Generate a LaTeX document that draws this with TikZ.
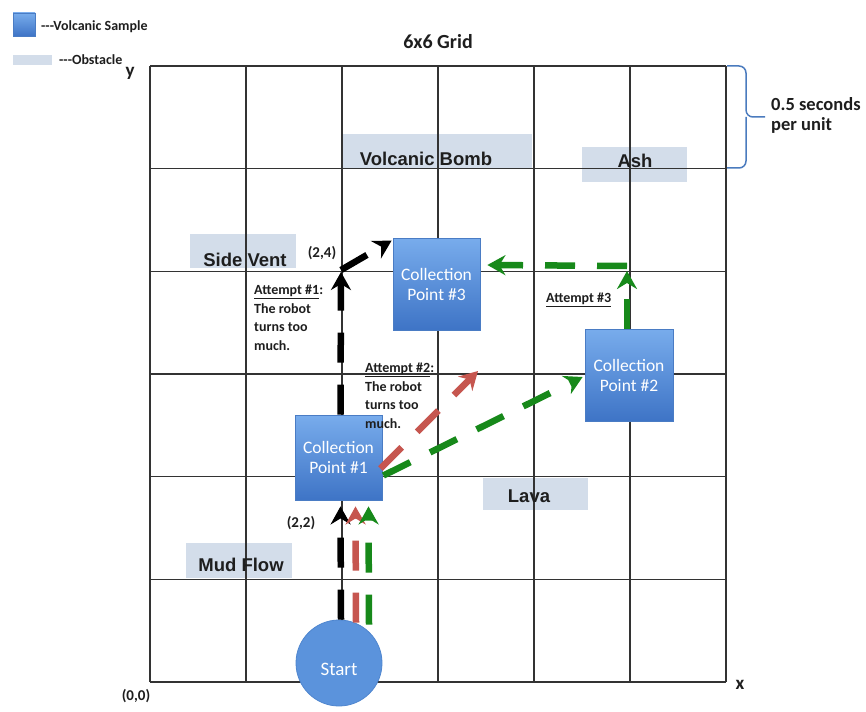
\documentclass[tikz,border=0pt]{standalone}
\usepackage{fontspec}
\setmainfont{Carlito}
\newfontfamily\arialf{Liberation Sans}
\usetikzlibrary{arrows.meta,calc}
\definecolor{obst}{HTML}{D3DDEA}
\definecolor{cptop}{HTML}{78ACEC}
\definecolor{cpbot}{HTML}{3E74C6}
\definecolor{cpedge}{HTML}{4A7CC4}
\definecolor{startc}{HTML}{5B93DC}
\definecolor{startedge}{HTML}{4F86CF}
\definecolor{redar}{HTML}{C6564F}
\definecolor{grnar}{HTML}{17891A}
\definecolor{bracec}{HTML}{4B7BBE}
\definecolor{gridc}{HTML}{333333}
\definecolor{txt}{HTML}{1E1E1E}
\tikzset{
  gridln/.style={draw=gridc, line width=1.5pt},
  obstbox/.style 2 args={rectangle, fill=obst, draw=none, inner sep=0, minimum width=#1, minimum height=#2},
  obstlbl/.style={font=\arialf\bfseries\fontsize{18.5}{22}\selectfont, text=txt, inner sep=0, anchor=base},
  cpbox/.style={rectangle, top color=cptop, bottom color=cpbot, draw=cpedge, line width=0.8pt,
     minimum width=87pt, minimum height=92pt, text=white, align=center,
     font=\fontsize{17.5}{20}\selectfont, inner sep=0},
  arw/.style={line width=6.5pt, dash pattern=on 30pt off 22pt, -{Stealth[length=18pt,width=20pt,inset=6pt]}},
  attxt/.style={align=left, font=\bfseries\fontsize{14}{18.5}\selectfont, text=txt, inner sep=0, anchor=west},
  coordlbl/.style={font=\bfseries\fontsize{15}{18}\selectfont, text=txt, inner sep=0},
  axlbl/.style={font=\bfseries\fontsize{19}{22}\selectfont, text=txt, inner sep=0},
  legtxt/.style={font=\bfseries\fontsize{14}{16}\selectfont, text=txt, inner sep=0, anchor=west}
}
\begin{document}
\begin{tikzpicture}[x=1pt,y=-1pt]
\useasboundingbox (0,0) rectangle (866,711);
\fill[white] (0,0) rectangle (866,711);
% obstacle boxes
\node[obstbox={190pt}{34pt}] (vbBox) at (437,151) {};
\node[obstbox={105pt}{35pt}] (ashBox) at (634.5,164.5) {};
\node[obstbox={106pt}{34pt}] (svBox) at (243,251) {};
\node[obstbox={105pt}{32pt}] (lavaBox) at (535.5,494) {};
\node[obstbox={106pt}{35pt}] (mudBox) at (239,560.5) {};
% grid
\foreach \i in {0,...,6} {
  \draw[gridln] ({150+96*\i},66) -- ({150+96*\i},682);
  \draw[gridln] (150,{66+102.667*\i}) -- (726,{66+102.667*\i});
}
% obstacle labels
\node[obstlbl] (vbText) at (426,166) {Volcanic Bomb};
\node[obstlbl] (ashText) at (635,168) {Ash};
\node[obstlbl] (svText) at (245,266) {Side Vent};
\node[obstlbl] (lavaText) at (529,502) {Lava};
\node[obstlbl] (mudText) at (241,571) {Mud Flow};
% start
\node[circle, fill=startc, draw=startedge, line width=0.8pt, minimum size=86pt, inner sep=0] (start) at (339,663) {};
\node[text=white, font=\fontsize{19}{20}\selectfont, inner sep=0] (startText) at (339,669) {Start};
% collection points
\node[cpbox, minimum height=85pt] (cp1) at (338.5,457.5) {Collection\\Point \#1};
\node[cpbox] (cp3) at (436.5,284) {Collection\\Point \#3};
\node[cpbox, minimum width=88pt] (cp2) at (629,375) {Collection\\Point \#2};
% free ends
\coordinate (p24) at (341,270);
\coordinate (redEnd) at (478,371);
\coordinate (g3) at (627,271);
% attempt 1-3 up to collection point 1
\draw[arw, black] ($(start.north)+(2,0)$) -- ($(cp1.south)+(2,6)$);
\draw[arw, redar] ($(start.north)+(17,3)$) -- ($(cp1.south)+(17,6)$);
\draw[arw, grnar] ($(start.north)+(30,5)$) -- ($(cp1.south)+(30,6)$);
% attempt 1
\draw[arw, black] ($(cp1.north)+(2,0)$) -- ($(p24)+(0,2)$);
\draw[arw, black] (p24) -- ($(cp3.north west)+(-1,3)$);
% attempt 2
\draw[arw, redar] ($(cp1.east)+(-2,11)$) -- (redEnd);
% attempt 3
\draw[arw, grnar] ($(cp1.east)+(1,18)$) -- ($(cp2.west)+(-2,2)$);
\draw[arw, grnar] ($(cp2.north)+(-2,0)$) -- (g3);
\draw[arw, grnar] ($(g3)+(0,-5)$) -- ($(cp3.east)+(7,-19)$);
% attempt texts
\node[attxt] (att1) at (254,318) {\underline{Attempt \#1}:\\The robot\\turns too\\much.};
\node[attxt] (att2) at (365,396) {\underline{Attempt \#2}:\\The robot\\turns too\\much.};
\node[attxt] (att3) at (546,300) {\underline{Attempt \#3}};
% coordinate labels
\node[coordlbl] (l24) at (322,253) {(2,4)};
\node[coordlbl] (l22) at (301,523) {(2,2)};
\node[coordlbl] (l00) at (136,696) {(0,0)};
% title and axes
\node[font=\bfseries\fontsize{20}{24}\selectfont, text=txt, inner sep=0] (title) at (438,42) {6x6 Grid};
\node[axlbl] (ylbl) at (130,73) {y};
\node[axlbl] (xlbl) at (740,685) {x};
% brace
\draw[bracec, line width=1.5pt, rounded corners=7pt] (727,66) -| (746,117) -- (765,117);
\draw[bracec, line width=1.5pt, rounded corners=7pt] (727,168) -| (746,117);
\node[font=\bfseries\fontsize{18.5}{20}\selectfont, text=txt, align=left, anchor=west, inner sep=0] (secs) at (771,115) {0.5 seconds\\per unit};
% legend
\node[rectangle, top color=cptop, bottom color=cpbot, draw=cpedge, minimum width=22pt, minimum height=23pt, inner sep=0] (legS) at (24,24.5) {};
\node[legtxt] (legSt) at (41,27) {-\kern0pt-\kern0pt-Volcanic Sample};
\node[obstbox={39pt}{10pt}] (legO) at (32.5,60) {};
\node[legtxt] (legOt) at (59,60) {-\kern0pt-\kern0pt-Obstacle};
\end{tikzpicture}
\end{document}
